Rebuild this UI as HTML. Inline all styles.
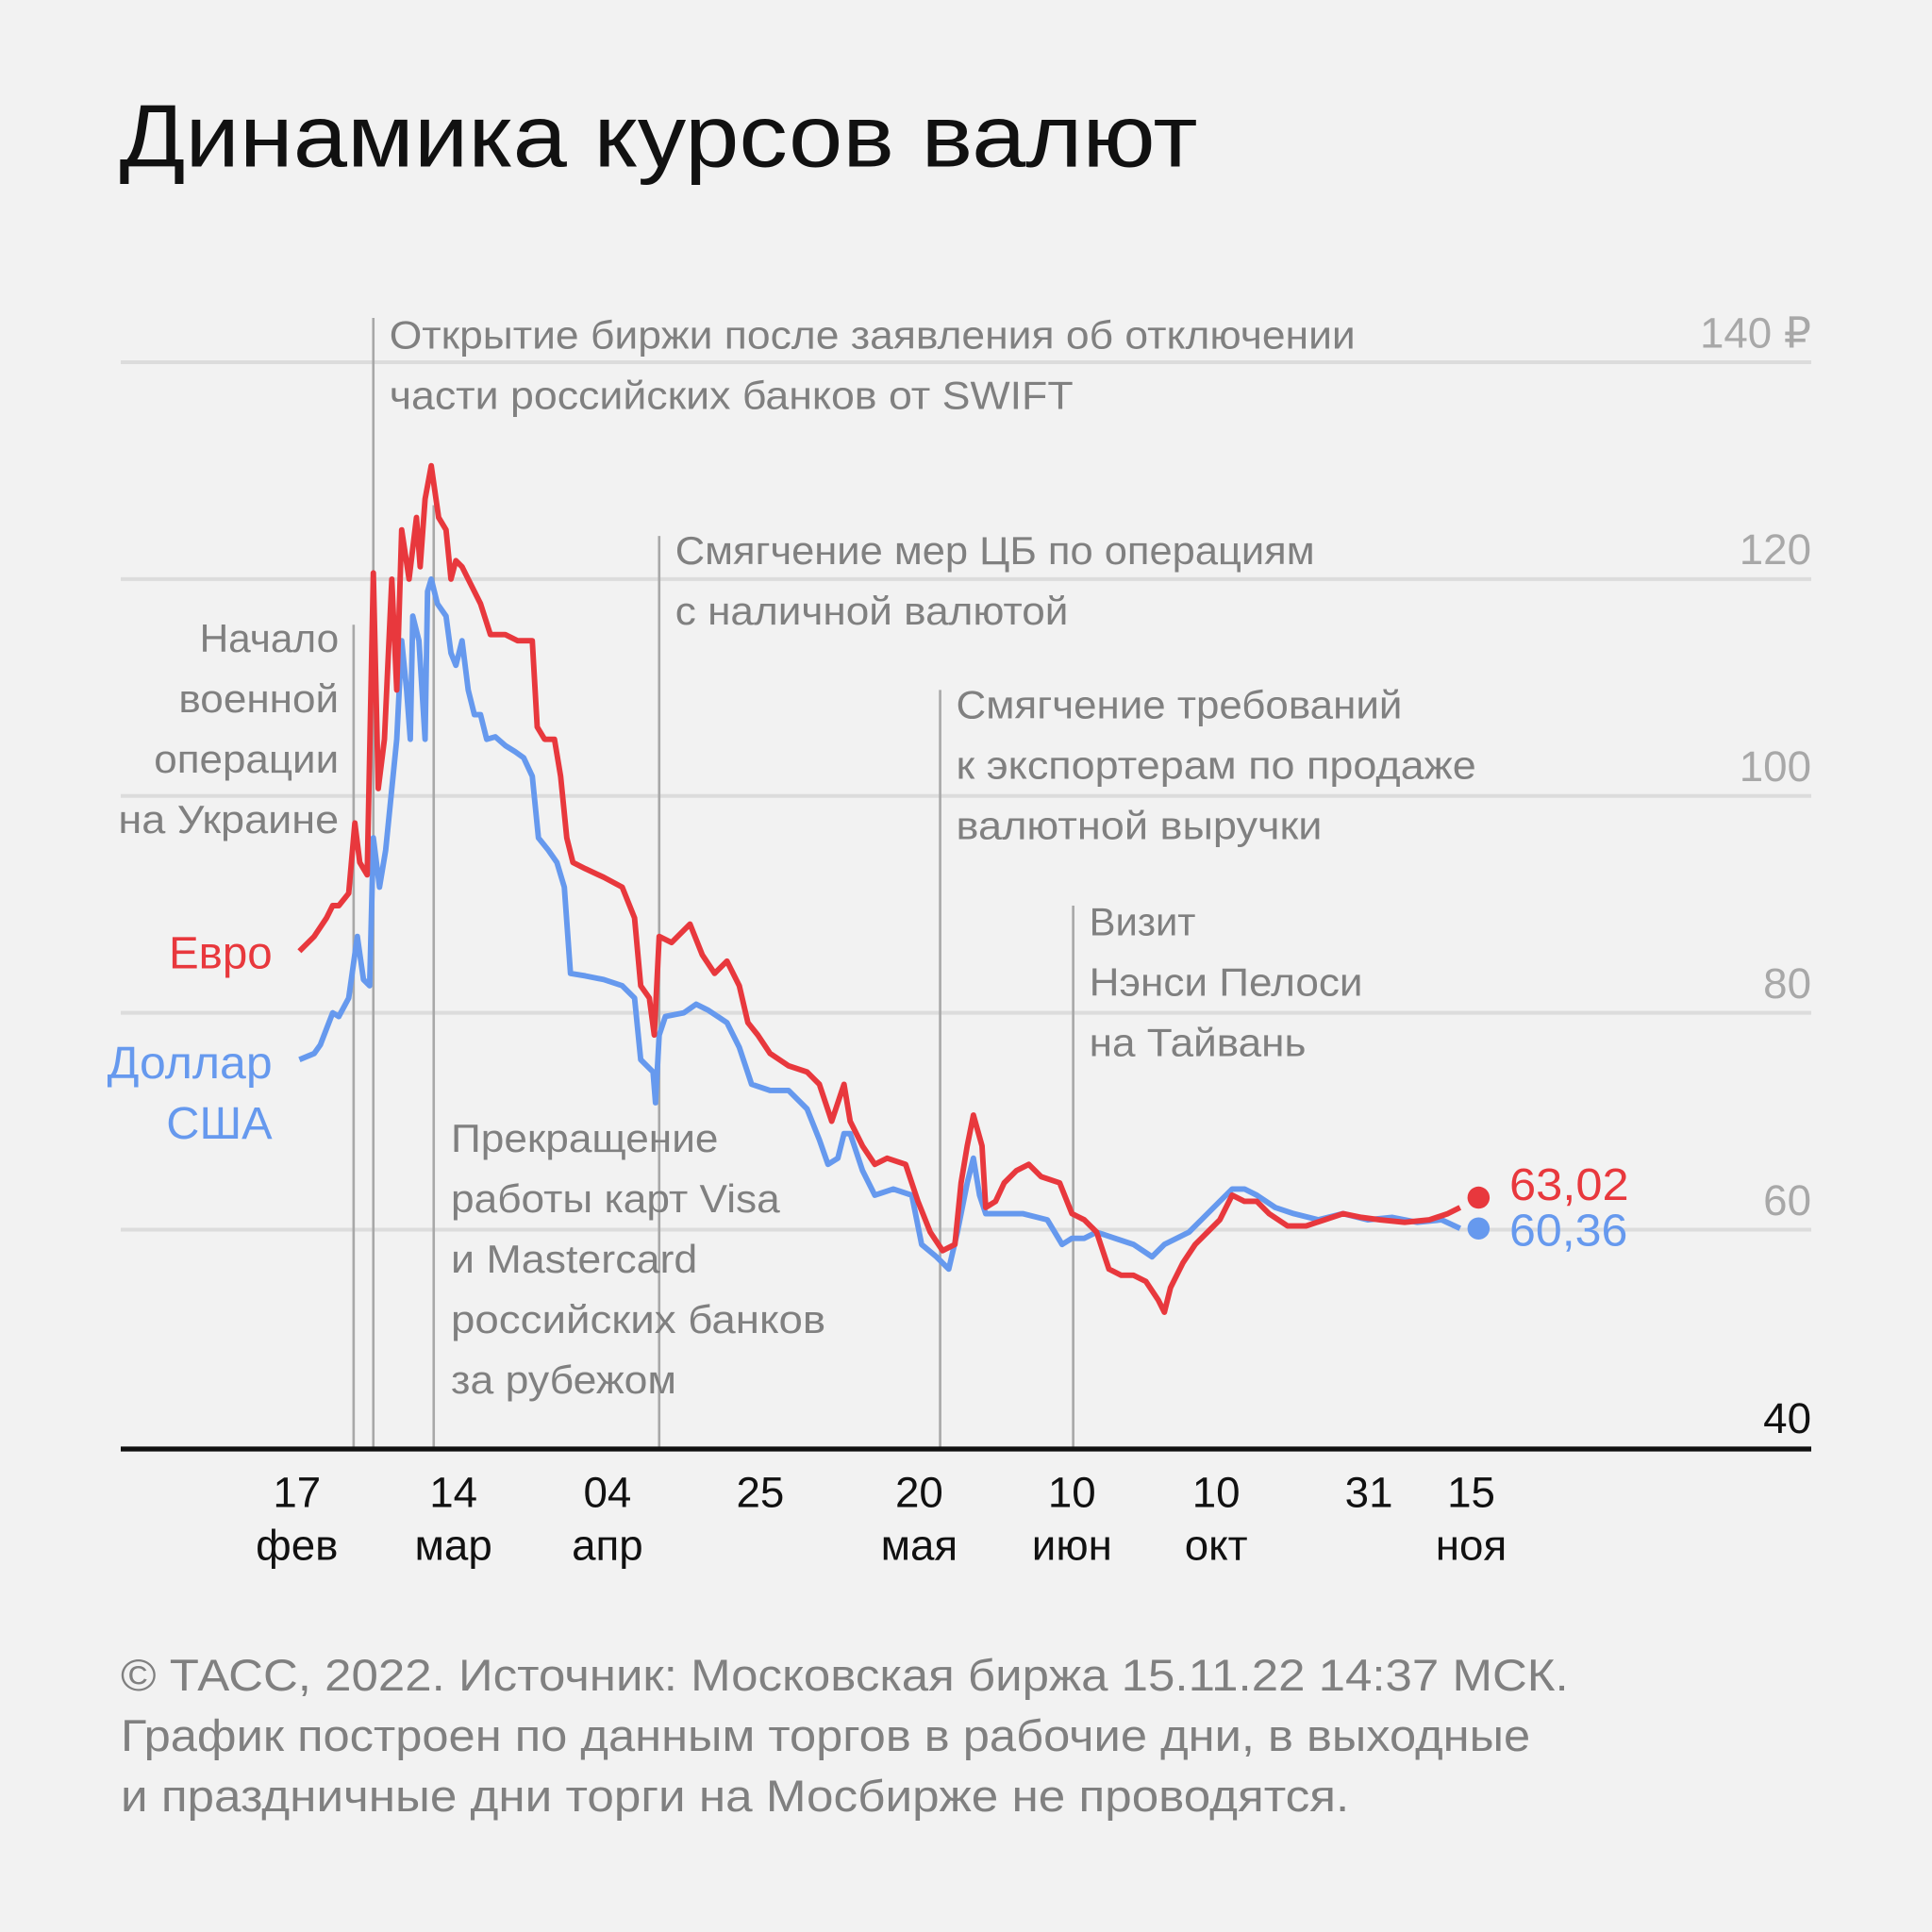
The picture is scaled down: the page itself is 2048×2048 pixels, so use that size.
<!DOCTYPE html>
<html><head><meta charset="utf-8"><style>
html,body{margin:0;padding:0;background:#f2f2f2;}
svg{display:block;}
text{font-family:"Liberation Sans","DejaVu Sans",sans-serif;}
</style></head><body>
<svg width="2048" height="2048" viewBox="0 0 1568 1568" xmlns="http://www.w3.org/2000/svg">
<rect width="1568" height="1568" fill="#f2f2f2"/>
<text x="97" y="135" font-size="72" fill="#111" textLength="875" lengthAdjust="spacingAndGlyphs">Динамика курсов валют</text>
<g stroke="#dcdcdc" stroke-width="3">
<line x1="98" y1="294" x2="1470" y2="294"/>
<line x1="98" y1="470" x2="1470" y2="470"/>
<line x1="98" y1="646" x2="1470" y2="646"/>
<line x1="98" y1="822" x2="1470" y2="822"/>
<line x1="98" y1="998" x2="1470" y2="998"/>
</g>
<g font-size="35" fill="#a8a8a8" text-anchor="end">
<text x="1470" y="282">140 ₽</text>
<text x="1470" y="458">120</text>
<text x="1470" y="634">100</text>
<text x="1470" y="810">80</text>
<text x="1470" y="986">60</text>
<text x="1470" y="1163" fill="#111">40</text>
</g>
<g stroke="#a8a8a8" stroke-width="2">
<line x1="287" y1="507" x2="287" y2="1175"/>
<line x1="303" y1="258" x2="303" y2="1175"/>
<line x1="352" y1="410" x2="352" y2="1175"/>
<line x1="535" y1="435" x2="535" y2="1175"/>
<line x1="763" y1="560" x2="763" y2="1175"/>
<line x1="871" y1="735" x2="871" y2="1175"/>
</g>
<g font-size="32" fill="#808080">
<text x="316" y="283" textLength="784" lengthAdjust="spacingAndGlyphs">Открытие биржи после заявления об отключении</text>
<text x="316" y="332" textLength="555" lengthAdjust="spacingAndGlyphs">части российских банков от SWIFT</text>
<text x="548" y="458" textLength="519" lengthAdjust="spacingAndGlyphs">Смягчение мер ЦБ по операциям</text>
<text x="548" y="507" textLength="319" lengthAdjust="spacingAndGlyphs">с наличной валютой</text>
<text x="776" y="583" textLength="362" lengthAdjust="spacingAndGlyphs">Смягчение требований</text>
<text x="776" y="632" textLength="422" lengthAdjust="spacingAndGlyphs">к экспортерам по продаже</text>
<text x="776" y="681" textLength="297" lengthAdjust="spacingAndGlyphs">валютной выручки</text>
<text x="884" y="759">Визит</text>
<text x="884" y="808" textLength="222" lengthAdjust="spacingAndGlyphs">Нэнси Пелоси</text>
<text x="884" y="857" textLength="176" lengthAdjust="spacingAndGlyphs">на Тайвань</text>
<text x="366" y="935" textLength="217" lengthAdjust="spacingAndGlyphs">Прекращение</text>
<text x="366" y="984" textLength="267" lengthAdjust="spacingAndGlyphs">работы карт Visa</text>
<text x="366" y="1033" textLength="200" lengthAdjust="spacingAndGlyphs">и Mastercard</text>
<text x="366" y="1082" textLength="304" lengthAdjust="spacingAndGlyphs">российских банков</text>
<text x="366" y="1131" textLength="183" lengthAdjust="spacingAndGlyphs">за рубежом</text>
<text x="162" y="529" textLength="113" lengthAdjust="spacingAndGlyphs">Начало</text>
<text x="145" y="578" textLength="130" lengthAdjust="spacingAndGlyphs">военной</text>
<text x="125" y="627" textLength="150" lengthAdjust="spacingAndGlyphs">операции</text>
<text x="96" y="676" textLength="179" lengthAdjust="spacingAndGlyphs">на Украине</text>
</g>
<g font-size="37">
<text x="137" y="786" fill="#e8383d" textLength="84" lengthAdjust="spacingAndGlyphs">Евро</text>
<text x="87" y="875" fill="#6699ee" textLength="134" lengthAdjust="spacingAndGlyphs">Доллар</text>
<text x="135" y="924" fill="#6699ee" textLength="86" lengthAdjust="spacingAndGlyphs">США</text>
</g>
<polyline fill="none" stroke="#6699ee" stroke-width="4.5" stroke-linejoin="round" points="243,860 255,855 260,848 265,835 270,822 275,825 283,810 290,760 295,795 300,800 303,680 308,720 313,690 318,640 322,600 326,520 330,560 333,600 335,500 340,520 345,600 347,480 350,470 355,490 362,500 366,530 370,540 375,520 380,560 385,580 390,580 395,600 402,598 410,605 418,610 425,615 432,630 437,680 445,690 452,700 458,720 463,790 475,792 490,795 505,800 515,810 520,860 530,870 532,895 535,840 540,825 555,822 565,815 575,820 590,830 600,850 610,880 625,885 640,885 655,900 665,925 672,945 680,940 685,920 690,920 700,950 710,970 725,965 740,970 748,1010 760,1020 770,1030 777,1000 785,960 790,940 795,970 800,985 810,985 830,985 850,990 862,1010 870,1005 880,1005 890,1000 905,1005 920,1010 935,1020 945,1010 955,1005 965,1000 975,990 990,975 1000,965 1010,965 1020,970 1035,980 1050,985 1070,990 1090,985 1110,990 1130,988 1150,992 1170,990 1185,997"/>
<polyline fill="none" stroke="#e8383d" stroke-width="4.5" stroke-linejoin="round" points="243,772 255,760 265,745 270,735 275,735 283,725 288,668 292,700 298,710 303,465 307,640 312,600 318,470 322,560 326,430 332,470 338,420 341,460 345,405 350,378 356,420 362,430 366,470 370,455 375,460 380,470 390,490 398,515 410,515 420,520 432,520 436,590 442,600 450,600 455,630 460,680 465,700 475,705 490,712 505,720 515,745 520,800 527,810 531,840 535,760 545,765 560,750 570,775 580,790 590,780 600,800 607,830 615,840 625,855 640,865 655,870 665,880 675,910 685,880 690,910 700,930 710,945 720,940 735,945 745,975 755,1000 765,1015 775,1010 780,960 785,930 790,905 797,930 800,980 808,975 815,960 825,950 835,945 845,955 860,960 870,985 880,990 890,1000 900,1030 910,1035 920,1035 930,1040 940,1055 945,1065 950,1045 960,1025 970,1010 980,1000 990,990 1000,970 1010,975 1020,975 1030,985 1045,995 1060,995 1075,990 1090,985 1105,988 1120,990 1140,992 1160,990 1175,985 1185,980"/>
<circle cx="1200" cy="972" r="9" fill="#e8383d"/>
<circle cx="1200" cy="997" r="9" fill="#6699ee"/>
<text x="1225" y="974" font-size="37" fill="#e8383d" textLength="97" lengthAdjust="spacingAndGlyphs">63,02</text>
<text x="1225" y="1011" font-size="37" fill="#6699ee" textLength="96" lengthAdjust="spacingAndGlyphs">60,36</text>
<line x1="98" y1="1176" x2="1470" y2="1176" stroke="#111" stroke-width="4"/>
<g font-size="35" fill="#111" text-anchor="middle">
<text x="241" y="1223">17</text><text x="241" y="1266">фев</text>
<text x="368" y="1223">14</text><text x="368" y="1266">мар</text>
<text x="493" y="1223">04</text><text x="493" y="1266">апр</text>
<text x="617" y="1223">25</text>
<text x="746" y="1223">20</text><text x="746" y="1266">мая</text>
<text x="870" y="1223">10</text><text x="870" y="1266">июн</text>
<text x="987" y="1223">10</text><text x="987" y="1266">окт</text>
<text x="1111" y="1223">31</text>
<text x="1194" y="1223">15</text><text x="1194" y="1266">ноя</text>
</g>
<g font-size="36" fill="#808080">
<text x="98" y="1372" textLength="1175" lengthAdjust="spacingAndGlyphs">© ТАСС, 2022. Источник: Московская биржа 15.11.22 14:37 МСК.</text>
<text x="98" y="1421" textLength="1144" lengthAdjust="spacingAndGlyphs">График построен по данным торгов в рабочие дни, в выходные</text>
<text x="98" y="1470" textLength="997" lengthAdjust="spacingAndGlyphs">и праздничные дни торги на Мосбирже не проводятся.</text>
</g>
</svg>
</body></html>
